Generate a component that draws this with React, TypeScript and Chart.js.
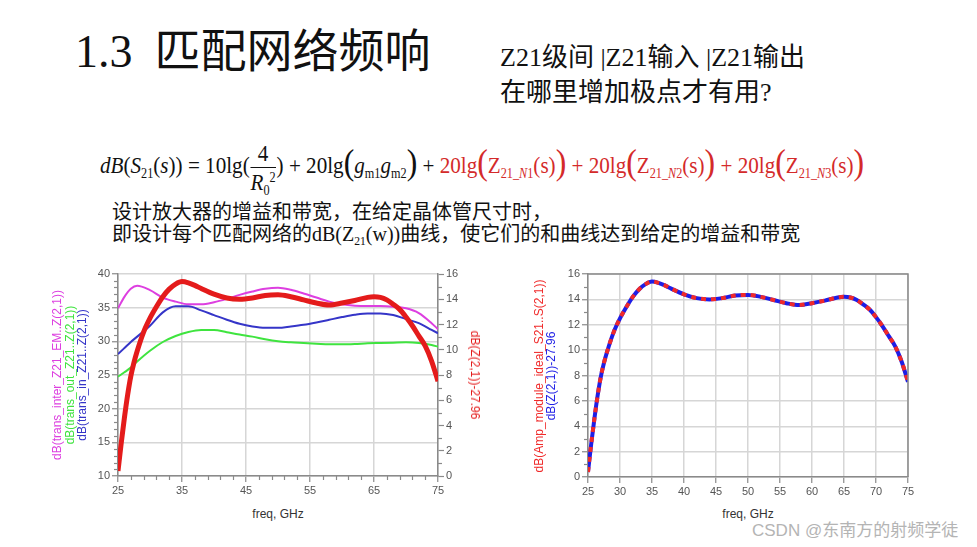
import React, { useEffect, useRef } from "react";
import { Chart, registerables } from "chart.js";
Chart.register(...registerables);

// ---------- data ----------
const freqA = [25, 26, 27, 28, 30, 32, 34, 36, 38, 40, 42, 44, 46, 48, 50, 52, 54, 56, 58, 60, 62, 64, 66, 68, 70, 72, 74, 75];
const transInterZ21 = [34.9, 36.6, 37.8, 38.25, 37.6, 36.5, 35.9, 35.5, 35.5, 35.8, 36.3, 36.9, 37.4, 37.8, 37.95, 37.65, 37.1, 36.5, 35.9, 35.5, 35.3, 35.25, 35.25, 35.15, 34.9, 34.2, 32.7, 31.8];
const transOutZ21 = [24.75, 25.4, 26.1, 27.0, 28.6, 29.9, 30.8, 31.4, 31.7, 31.7, 31.35, 31.0, 30.7, 30.3, 30.0, 29.85, 29.75, 29.65, 29.55, 29.55, 29.6, 29.7, 29.75, 29.8, 29.85, 29.75, 29.45, 29.2];
const transInZ21 = [28.1, 29.0, 29.9, 30.7, 32.3, 34.3, 35.2, 35.2, 34.6, 33.9, 33.2, 32.6, 32.2, 32.0, 32.0, 32.2, 32.45, 32.8, 33.2, 33.6, 33.95, 34.15, 34.15, 33.9, 33.3, 32.7, 31.7, 31.2];

const freqB = [25, 25.5, 26, 26.5, 27, 27.5, 28, 29, 30, 31, 32, 33, 34, 35, 36, 37, 38, 40, 42, 44, 46, 48, 50, 52, 54, 56, 58, 60, 62, 64, 65, 66, 67, 68, 69, 70, 71, 72, 73, 74, 75];
const z21Minus2796 = [0.4, 2.6, 4.6, 6.4, 7.9, 9.0, 9.9, 11.4, 12.5, 13.4, 14.2, 14.8, 15.2, 15.4, 15.3, 15.1, 14.85, 14.4, 14.1, 14.0, 14.1, 14.3, 14.35, 14.2, 13.95, 13.7, 13.55, 13.7, 13.9, 14.15, 14.2, 14.15, 13.95, 13.6, 13.2, 12.6, 11.9, 11.1, 10.3, 9.1, 7.5];
const ampModuleS21 = [0.4, 2.6, 4.6, 6.4, 7.9, 9.0, 9.9, 11.4, 12.5, 13.4, 14.2, 14.8, 15.2, 15.4, 15.3, 15.1, 14.85, 14.4, 14.1, 14.0, 14.1, 14.3, 14.35, 14.2, 13.95, 13.7, 13.55, 13.7, 13.9, 14.15, 14.2, 14.15, 13.95, 13.6, 13.2, 12.6, 11.9, 11.1, 10.3, 9.1, 7.5];

const xTicks1 = [25, 35, 45, 55, 65, 75];
const yTicks1 = [10, 15, 20, 25, 30, 35, 40];
const y1Ticks1 = [0, 2, 4, 6, 8, 10, 12, 14, 16];
const xTicks2 = [25, 30, 35, 40, 45, 50, 55, 60, 65, 70, 75];
const yTicks2 = [0, 2, 4, 6, 8, 10, 12, 14, 16];

// ---------- styles ----------
const MAG = "#dd3fe0";
const GRN = "#3fe43f";
const BLU = "#3535c8";
const RED = "#e41b1b";
const BLU2 = "#1e1ee6";
const RED2 = "#f02a2a";
const GRID = "#d6d6d6";
const AXIS = "#8a8a8a";
const TICK = "#555";
const tickFont = { family: '"Liberation Sans", Arial, sans-serif', size: 11 };

const range = (a: number, b: number, s: number) => {
  const r: number[] = [];
  for (let v = a; v <= b + 1e-9; v += s) r.push(v);
  return r;
};

const minorTickPlugin = {
  id: "minorTicks",
  afterDraw(chart: any, _args: any, opts: any) {
    const ctx = chart.ctx;
    const a = chart.chartArea;
    ctx.save();
    if (opts.frame) {
      ctx.strokeStyle = AXIS;
      ctx.lineWidth = 1.5;
      ctx.beginPath();
      ctx.moveTo(a.left, a.top);
      ctx.lineTo(a.right, a.top);
      ctx.lineTo(a.right, a.bottom);
      ctx.stroke();
    }
    ctx.strokeStyle = AXIS;
    ctx.lineWidth = 1.2;
    (opts.items || []).forEach((it: any) => {
      const s = chart.scales[it.scale];
      it.values.forEach((v: number) => {
        const p = Math.round(s.getPixelForValue(v)) + 0.5;
        ctx.beginPath();
        if (it.side === "bottom") {
          ctx.moveTo(p, a.bottom);
          ctx.lineTo(p, a.bottom + it.len);
        } else if (it.side === "left") {
          ctx.moveTo(a.left, p);
          ctx.lineTo(a.left - it.len, p);
        } else {
          ctx.moveTo(a.right, p);
          ctx.lineTo(a.right + it.len, p);
        }
        ctx.stroke();
      });
    });
    ctx.restore();
  },
};

const pts = (xs: number[], ys: number[]) => xs.map((x, i) => ({ x, y: ys[i] }));

const axisCommon = (ticks: number[], min: number, max: number) => ({
  type: "linear" as const,
  min,
  max,
  afterBuildTicks: (s: any) => {
    s.ticks = ticks.map((v) => ({ value: v }));
  },
  border: { color: AXIS, width: 1.5 },
  grid: { color: GRID, lineWidth: 1.5, tickLength: 6, tickColor: AXIS, tickWidth: 1.2 },
  ticks: { font: tickFont, color: TICK, padding: 2, maxRotation: 0, autoSkip: false },
});

const line = (label: string, data: any[], color: string, width: number, axis: string, extra: any = {}) => ({
  label,
  data,
  borderColor: color,
  backgroundColor: color,
  borderWidth: width,
  pointRadius: 0,
  fill: false,
  yAxisID: axis,
  cubicInterpolationMode: "monotone",
  ...extra,
});

function makeConfig1(): any {
  return {
    type: "line",
    data: {
      datasets: [
        line("dB(Z(2,1))-27.96", pts(freqB, z21Minus2796), RED, 5, "y1"),
        line("dB(trans_inter_Z21_EM..Z(2,1))", pts(freqA, transInterZ21), MAG, 2, "y"),
        line("dB(trans_in_Z21..Z(2,1))", pts(freqA, transInZ21), BLU, 2, "y"),
        line("dB(trans_out_Z21..Z(2,1))", pts(freqA, transOutZ21), GRN, 2, "y"),
      ],
    },
    options: {
      responsive: false,
      animation: false,
      devicePixelRatio: 1,
      layout: { padding: { top: 10, left: 0, right: 0, bottom: 0 } },
      plugins: {
        legend: { display: false },
        tooltip: { enabled: false },
        minorTicks: {
          items: [
            { scale: "x", side: "bottom", len: 4, values: range(25, 75, 2).filter((v) => (v - 25) % 10 !== 0) },
            { scale: "y", side: "left", len: 4, values: range(10, 40, 1).filter((v) => v % 5 !== 0) },
            { scale: "y1", side: "right", len: 4, values: range(1, 15, 2) },
          ],
        },
      },
      scales: {
        x: { ...axisCommon(xTicks1, 25, 75), afterFit: (s: any) => { s.height = 24; } },
        y: { ...axisCommon(yTicks1, 10, 40), position: "left", afterFit: (s: any) => { s.width = 78; } },
        y1: {
          ...axisCommon(y1Ticks1, 0, 16),
          position: "right",
          grid: { drawOnChartArea: false, tickLength: 6, tickColor: AXIS, tickWidth: 1.2 },
          ticks: { font: tickFont, color: TICK, padding: 2 },
          afterFit: (s: any) => { s.width = 42; },
        },
      },
    },
    plugins: [minorTickPlugin],
  };
}

function makeConfig2(): any {
  return {
    type: "line",
    data: {
      datasets: [
        line("dB(Amp_module_ideal_S21..S(2,1))", pts(freqB, ampModuleS21), RED2, 4, "y", { borderDash: [5, 5] }),
        line("dB(Z(2,1))-27.96", pts(freqB, z21Minus2796), BLU2, 4, "y"),
      ],
    },
    options: {
      responsive: false,
      animation: false,
      devicePixelRatio: 1,
      layout: { padding: { top: 10, left: 0, right: 22, bottom: 0 } },
      plugins: {
        legend: { display: false },
        tooltip: { enabled: false },
        minorTicks: {
          frame: true,
          items: [{ scale: "y", side: "left", len: 4, values: range(1, 15, 2) }],
        },
      },
      scales: {
        x: { ...axisCommon(xTicks2, 25, 75), afterFit: (s: any) => { s.height = 23; } },
        y: { ...axisCommon(yTicks2, 0, 16), position: "left", afterFit: (s: any) => { s.width = 78; } },
      },
    },
    plugins: [minorTickPlugin],
  };
}

const rot = (cx: number, cy: number, color: string, text: string, deg: number, size = 12) => (
  <div
    style={{
      position: "absolute",
      left: cx,
      top: cy,
      transform: `translate(-50%, -50%) rotate(${deg}deg)`,
      color,
      fontFamily: '"Liberation Sans", Arial, sans-serif',
      fontSize: size,
      whiteSpace: "nowrap",
      lineHeight: 1,
    }}
  >
    {text}
  </div>
);

const Sub = ({ children }: any) => (
  <span style={{ fontSize: "0.58em", position: "relative", top: "0.35em" }}>{children}</span>
);
const Big = ({ children }: any) => (
  <span style={{ fontSize: "1.5em", fontWeight: 300, position: "relative", top: "0.04em" }}>{children}</span>
);

export default function App() {
  const c1 = useRef<HTMLCanvasElement>(null);
  const c2 = useRef<HTMLCanvasElement>(null);
  useEffect(() => {
    const ch1 = new Chart(c1.current as HTMLCanvasElement, makeConfig1());
    const ch2 = new Chart(c2.current as HTMLCanvasElement, makeConfig2());
    return () => {
      ch1.destroy();
      ch2.destroy();
    };
  }, []);

  const serif = '"Liberation Serif", "Noto Sans CJK SC", serif';
  const red = { color: "#d42a2a" };

  return (
    <div style={{ position: "absolute", left: 0, top: 0, width: 977, height: 547, background: "#fff", overflow: "hidden" }}>
      <div style={{ position: "absolute", left: 75, top: 27, fontFamily: serif, fontSize: 46, lineHeight: "50px", color: "#111", whiteSpace: "nowrap" }}>
        1.3<span style={{ display: "inline-block", width: 22 }}></span>匹配网络频响
      </div>
      <div style={{ position: "absolute", left: 500, top: 40, fontFamily: serif, fontSize: 26, lineHeight: "35px", color: "#111", whiteSpace: "nowrap" }}>
        <div>Z21级间 |Z21输入 |Z21输出</div>
        <div>在哪里增加极点才有用?</div>
      </div>

      <div style={{ position: "absolute", left: 100, top: 129, height: 64, lineHeight: "64px", fontFamily: serif, fontSize: 24, color: "#111", whiteSpace: "nowrap", transform: "scaleX(0.88)", transformOrigin: "0 50%" }}>
        <i>dB</i>(<i>S</i><Sub>21</Sub>(<i>s</i>)) = 10lg(
        <span style={{ display: "inline-block", verticalAlign: "middle", textAlign: "center", lineHeight: 1, margin: "0 1px" }}>
          <span style={{ display: "block", paddingBottom: 2 }}>4</span>
          <span style={{ display: "block", borderTop: "1.5px solid #111", paddingTop: 2 }}>
            <i>R</i><Sub>0</Sub><span style={{ fontSize: "0.58em", position: "relative", top: "-0.6em" }}>2</span>
          </span>
        </span>
        ) + 20lg<Big>(</Big><i>g</i><Sub>m1</Sub><i>g</i><Sub>m2</Sub><Big>)</Big> +{" "}
        <span style={red}>
          20lg<Big>(</Big>Z<Sub>21_<i>N</i>1</Sub>(s)<Big>)</Big> + 20lg<Big>(</Big>Z<Sub>21_<i>N</i>2</Sub>(s)<Big>)</Big> + 20lg<Big>(</Big>Z<Sub>21_<i>N</i>3</Sub>(s)<Big>)</Big>
        </span>
      </div>

      <div style={{ position: "absolute", left: 112, top: 201, fontFamily: serif, fontSize: 20, lineHeight: "22px", color: "#111", whiteSpace: "nowrap" }}>
        <div>设计放大器的增益和带宽，在给定晶体管尺寸时，</div>
        <div>
          即设计每个匹配网络的dB(Z<Sub>21</Sub>(w))曲线，使它们的和曲线达到给定的增益和带宽
        </div>
      </div>

      <canvas ref={c1} width={440} height={236} style={{ position: "absolute", left: 40, top: 264 }} />
      <canvas ref={c2} width={420} height={236} style={{ position: "absolute", left: 510, top: 264 }} />

      {rot(57, 375, MAG, "dB(trans_inter_Z21_EM..Z(2,1))", -90)}
      {rot(69.5, 375, GRN, "dB(trans_out_Z21..Z(2,1))", -90)}
      {rot(82, 375, BLU, "dB(trans_in_Z21..Z(2,1))", -90)}
      {rot(475, 375, RED, "dB(Z(2,1))-27.96", 90)}
      {rot(539, 376, RED2, "dB(Amp_module_ideal_S21..S(2,1))", -90)}
      {rot(551, 376, BLU2, "dB(Z(2,1))-27.96", -90)}

      <div style={{ position: "absolute", left: 278, top: 514, transform: "translate(-50%, -50%)", fontFamily: '"Liberation Sans", Arial, sans-serif', fontSize: 12, color: "#333", whiteSpace: "nowrap" }}>
        freq, GHz
      </div>
      <div style={{ position: "absolute", left: 748, top: 514, transform: "translate(-50%, -50%)", fontFamily: '"Liberation Sans", Arial, sans-serif', fontSize: 12, color: "#333", whiteSpace: "nowrap" }}>
        freq, GHz
      </div>

      <div style={{ position: "absolute", left: 752, top: 519, fontFamily: '"Liberation Sans", "Noto Sans CJK SC", sans-serif', fontSize: 17, lineHeight: "24px", color: "#b4b4b4", whiteSpace: "nowrap" }}>
        CSDN @东南方的射频学徒
      </div>
    </div>
  );
}
